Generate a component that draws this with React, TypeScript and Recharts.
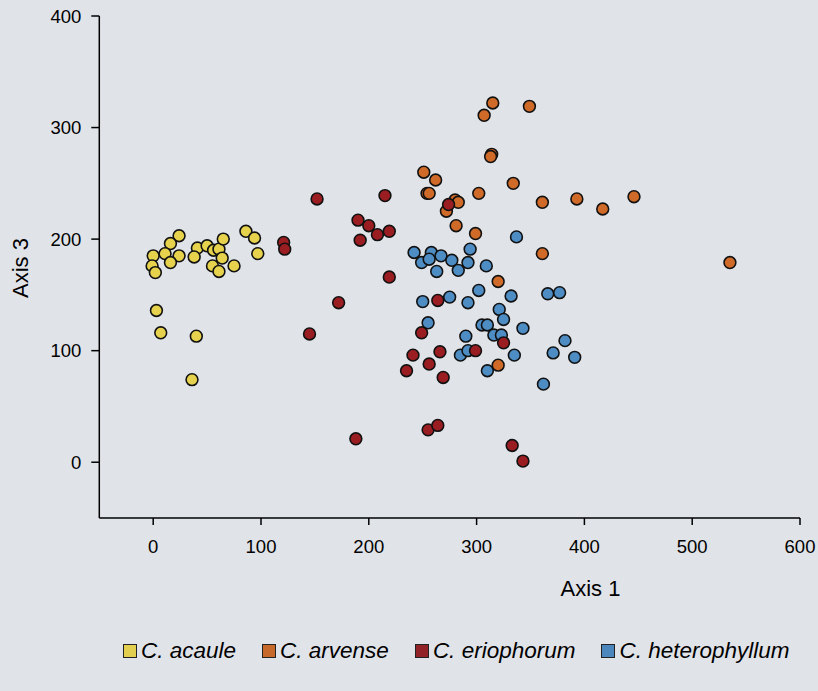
import React from 'react';
import { ScatterChart, Scatter, XAxis, YAxis } from 'recharts';

const FONT = '"Liberation Sans", Arial, Helvetica, sans-serif';

// Axis 1 / Axis 3 scores per species
const acaule: [number, number][] = [
  [24, 203], [16, 196], [0, 185], [11, 187], [24, 185], [-1, 176], [2, 170], [16, 179],
  [41, 192], [38, 184], [50, 194], [56, 190], [61, 191], [65, 200], [64, 183], [55, 176],
  [61, 171], [75, 176], [86, 207], [94, 201], [97, 187], [3, 136], [7, 116], [40, 113], [36, 74],
];
const arvense: [number, number][] = [
  [315, 322], [307, 311], [349, 319], [314, 276], [313, 274], [251, 260], [262, 253], [254, 241],
  [256, 241], [302, 241], [334, 250], [280, 235], [283, 233], [272, 225], [361, 233], [393, 236],
  [417, 227], [446, 238], [281, 212], [299, 205], [361, 187], [320, 162], [320, 87], [535, 179],
];
const eriophorum: [number, number][] = [
  [152, 236], [215, 239], [121, 197], [122, 191], [190, 217], [200, 212], [208, 204], [219, 207],
  [192, 199], [219, 166], [172, 143], [145, 115], [274, 231], [264, 145], [249, 116], [241, 96],
  [266, 99], [256, 88], [235, 82], [269, 76], [299, 100], [325, 107], [255, 29], [264, 33],
  [333, 15], [343, 1], [188, 21],
];
const heterophyllum: [number, number][] = [
  [337, 202], [242, 188], [258, 188], [249, 179], [256, 182], [267, 185], [277, 181], [294, 191],
  [292, 179], [263, 171], [283, 172], [309, 176], [302, 154], [332, 149], [250, 144], [275, 148],
  [292, 143], [366, 151], [377, 152], [321, 137], [325, 128], [255, 125], [305, 123], [310, 123],
  [343, 120], [290, 113], [316, 114], [323, 114], [382, 109], [285, 96], [292, 100], [335, 96],
  [371, 98], [391, 94], [310, 82], [362, 70],
];

const xTicks = [0, 100, 200, 300, 400, 500, 600];
const yTicks = [0, 100, 200, 300, 400];
const speciesNames = ['C. acaule', 'C. arvense', 'C. eriophorum', 'C. heterophyllum'];
const speciesColors = ['#e6d24c', '#cf6a28', '#9a1d22', '#4e8dc4'];
const legendColors = ['#e3cf4f', '#c8692c', '#912227', '#4b86bc'];

const toPts = (arr: [number, number][]) => arr.map(([x, y]) => ({ x, y }));

const makeShape = (fill: string) => (props: any) => (
  <circle cx={props.cx} cy={props.cy} r={5.9} fill={fill} stroke="#111" strokeWidth={1.6} />
);

const drawOrder = [0, 3, 1, 2];
const seriesData = [acaule, arvense, eriophorum, heterophyllum];

export default function App() {
  return (
    <div style={{ position: 'fixed', left: 0, top: 0, width: 818, height: 691, background: '#e0e3e8', overflow: 'hidden' }}>
      <ScatterChart width={818} height={691} margin={{ top: 16, right: 18, left: 0, bottom: 113 }}>
        <XAxis
          type="number"
          dataKey="x"
          domain={[-50, 600]}
          ticks={xTicks}
          height={60}
          tickSize={7}
          tickMargin={15}
          axisLine={{ stroke: '#000', strokeWidth: 1.5 }}
          tickLine={{ stroke: '#000', strokeWidth: 1.5 }}
          tick={{ fill: '#000', fontSize: 18.5, fontFamily: FONT }}
          label={{
            content: (p: any) => {
              const vb = p.viewBox;
              return (
                <text x={vb.x + vb.width * 0.701} y={vb.y + 78} textAnchor="middle" fill="#000" fontSize={22} fontFamily={FONT}>
                  Axis 1
                </text>
              );
            },
          }}
        />
        <YAxis
          type="number"
          dataKey="y"
          domain={[-50, 400]}
          ticks={yTicks}
          width={99.3}
          tickSize={8}
          tickMargin={10}
          axisLine={{ stroke: '#000', strokeWidth: 1.5 }}
          tickLine={{ stroke: '#000', strokeWidth: 1.5 }}
          tick={{ fill: '#000', fontSize: 18.5, fontFamily: FONT }}
          label={{
            content: (p: any) => {
              const vb = p.viewBox;
              const lx = vb.x + 28;
              const ly = vb.y + vb.height * 0.5 + 1;
              return (
                <text x={lx} y={ly} transform={`rotate(-90, ${lx}, ${ly})`} textAnchor="middle" fill="#000" fontSize={22} fontFamily={FONT}>
                  Axis 3
                </text>
              );
            },
          }}
        />
        {drawOrder.map((i) => (
          <Scatter
            key={speciesNames[i]}
            name={speciesNames[i]}
            data={toPts(seriesData[i])}
            fill={speciesColors[i]}
            shape={makeShape(speciesColors[i])}
            isAnimationActive={false}
          />
        ))}
      </ScatterChart>
      <div
        style={{
          position: 'absolute',
          left: 123,
          top: 639,
          height: 24,
          display: 'flex',
          alignItems: 'center',
          gap: 26,
          fontFamily: FONT,
          fontStyle: 'italic',
          fontSize: 22.5,
          lineHeight: '24px',
          color: '#000',
          whiteSpace: 'nowrap',
        }}
      >
        {speciesNames.map((n, i) => (
          <div key={n} style={{ display: 'flex', alignItems: 'center' }}>
            <span
              style={{
                display: 'inline-block',
                width: 12,
                height: 12,
                background: legendColors[i],
                border: '1.3px solid #222',
                marginRight: 4,
              }}
            />
            <span>{n}</span>
          </div>
        ))}
      </div>
    </div>
  );
}
